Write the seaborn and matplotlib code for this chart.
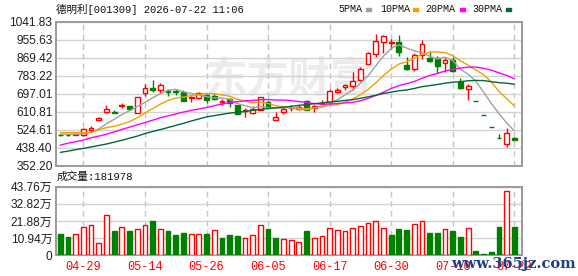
import numpy as np
import pandas as pd
import matplotlib
matplotlib.use("Agg")
import matplotlib.pyplot as plt
from matplotlib.patches import Rectangle
import seaborn as sns

TITLE = "德明利[001309] 2026-07-22 11:06"
VOLUME_TEXT = "成交量:181978"

# daily OHLC
open_ = [500, 500, 501, 500, 523, 573, 609, 607, 638, 637.5,
         606, 700, 725, 712.7, 711, 711, 706.4, 677, 676.6, 690.7,
         684, 658, 671, 641, 615, 604.4, 617, 655.5, 572.5, 611,
         627, 625, 663.5, 630, 650, 655.5, 705, 729, 735.3, 764,
         837.5, 887.6, 946.1, 940, 946.1, 832.2, 813.3, 882.9, 868.6, 867,
         843.3, 859.1, 753.1, 721.5, 662, 596, 536.4, 482.8, 457.3, 484.2]
high = [503, 502, 506, 534, 542, 585, 640.6, 617, 652, 640,
        683, 744, 762.8, 747, 720, 719, 712.7, 684, 703, 694,
        694, 671, 678, 641, 630, 636, 682.6, 665, 609, 639.5,
        641, 641, 668, 641, 665, 721, 724, 745, 800.8, 824.7,
        896.5, 982.5, 979.4, 958.8, 979.4, 871.8, 890.8, 954, 900.3, 879.7,
        867, 874.9, 773.7, 745.2, 662, 596, 536.4, 503, 531.6, 492]
low = [496, 496, 497, 496, 515, 570, 606, 606, 630, 619,
       606, 687.6, 703, 700, 684, 689, 661, 658, 673.5, 653,
       665.6, 641, 633, 598, 585, 598, 617, 630, 572.5, 601,
       614, 620, 617, 609, 646, 649, 701.8, 713, 713, 756,
       837.5, 874.9, 892.4, 911.3, 879.7, 808.5, 803.8, 863.9, 848, 795.9,
       800.6, 800.6, 721.5, 666.1, 662, 596, 536.4, 482.8, 441.5, 476]
close = [499, 498, 502, 527.8, 532, 583, 622, 606, 643, 622,
         683, 723.6, 716, 739, 707, 705, 661, 681, 700, 669,
         672, 660, 652, 598, 618, 623.6, 682.6, 630, 587, 625,
         630, 635, 620, 639.5, 654, 711.4, 714.5, 738.5, 756, 813.5,
         893.3, 950.9, 971.5, 943, 895.5, 816.4, 882.9, 935.1, 852.8, 829,
         859.1, 805.3, 724.6, 735.7, 662, 596, 536.4, 482.8, 508, 476.3]

# volume in 万 shares
volume = [13.6, 11.7, 13.6, 17.8, 19.3, 7.9, 25.7, 15.5, 17.8, 15.5,
          16.6, 19.3, 21.9, 16.6, 15.5, 13.0, 14.2, 13.6, 13.6, 13.6,
          15.9, 11.0, 13.0, 12.3, 11.0, 13.0, 19.3, 16.8, 11.0, 10.4,
          9.8, 8.5, 15.5, 11.0, 12.3, 17.4, 16.1, 15.5, 17.4, 18.7,
          20.4, 21.5, 17.4, 13.0, 16.8, 16.1, 20.0, 21.7, 14.4, 14.4,
          16.6, 15.5, 11.7, 17.4, 3.0, 1.1, 2.3, 18.1, 41.0, 18.2]

# moving averages as drawn on the chart
ma5 = [503, 503, 503, 505, 511.8, 528.6, 553.4, 574.2, 597.2, 615.2,
       635.2, 655.5, 677.5, 696.7, 713.7, 718.1, 705.6, 698.6, 690.8, 683.2,
       676.6, 676.4, 670.6, 650.2, 640.0, 630.3, 634.8, 630.4, 628.2, 629.6,
       630.9, 621.4, 619.4, 629.9, 635.7, 652.0, 667.9, 691.6, 714.9, 746.8,
       783.2, 830.4, 877.0, 914.4, 930.8, 915.5, 901.9, 894.6, 876.5, 863.2,
       871.8, 856.3, 814.2, 790.7, 757.3, 704.7, 651.0, 602.6, 557.0, 519.9]
ma10 = [511, 511, 511, 511, 512, 524, 535, 541, 551, 563.5,
        581.9, 604.4, 625.8, 647.0, 664.5, 676.7, 680.6, 688.1, 693.8, 698.5,
        697.4, 691.0, 684.6, 670.5, 661.6, 653.5, 655.6, 650.5, 639.2, 634.8,
        630.6, 628.1, 624.9, 629.1, 632.7, 641.5, 644.6, 655.5, 672.4, 691.2,
        717.6, 749.2, 784.3, 814.7, 838.8, 849.3, 866.2, 885.8, 895.5, 897.0,
        893.6, 879.1, 854.4, 833.6, 810.3, 788.3, 753.6, 708.4, 673.9, 638.6]
ma20 = [451, 460, 467, 475, 486, 494, 503, 514, 526, 537,
        548, 559, 570, 582, 591, 600, 609, 617, 624, 631.0,
        639.6, 647.7, 655.2, 658.7, 663.0, 665.1, 668.1, 669.3, 666.5, 666.6,
        664.0, 659.6, 654.8, 649.8, 647.1, 647.5, 650.1, 653.0, 655.8, 663.0,
        674.1, 688.6, 704.6, 721.9, 735.7, 745.4, 755.4, 770.7, 783.9, 794.1,
        805.6, 814.1, 819.3, 824.2, 824.6, 818.8, 809.9, 797.1, 784.7, 767.8]
ma30 = [416, 422, 429, 435, 442, 449, 456, 465, 474, 484,
        494, 506, 516, 525, 535, 545, 555, 566, 576, 586,
        592, 598, 604, 608, 612, 617, 622, 626, 629, 632.3,
        636.6, 641.2, 645.1, 648.8, 652.9, 657.2, 660.3, 664.7, 668.5, 674.8,
        681.9, 689.4, 697.9, 704.7, 711.0, 714.7, 722.1, 730.6, 735.7, 741.0,
        747.3, 752.1, 754.5, 759.1, 760.6, 759.7, 754.8, 749.9, 747.3, 742.3]

price_ticks = [352.20, 438.40, 524.61, 610.81, 697.01, 783.22, 869.42, 955.63, 1041.83]
vol_ticks = [0, 10.94, 21.88, 32.82, 43.76]
date_pos = [3, 11, 19, 27, 35, 43, 51, 59]
date_labels = ["04-29", "05-14", "05-26", "06-05", "06-17", "06-30", "07-10", "07-22"]

ma_names = ["5PMA", "10PMA", "20PMA", "30PMA"]
ma_colors = ["#a0a0a0", "#f0a000", "#ff00ff", "#006a32"]

RED = "#ff0000"
GREEN = "#008000"

sns.set_style("white")
plt.rcParams["font.family"] = ["Liberation Sans", "Noto Sans CJK SC", "DejaVu Sans"]

W, H = 578, 276


def fx(px):
    return px / W


def fy(py):
    return 1 - py / H


df = pd.DataFrame({"open": open_, "high": high, "low": low, "close": close,
                   "volume": volume})
df["idx"] = np.arange(len(df))

# candle colour: body direction; volume colour: change vs previous close
diff = df["close"] - df["open"]
prev = df["close"].shift(1).fillna(df["open"])
up_candle = np.where(diff != 0, diff > 0, df["close"] >= prev)
up_vol = (df["close"] >= prev).values
up_vol[0] = df["close"][0] >= df["open"][0]

fig = plt.figure(figsize=(W / 100, H / 100), dpi=100)
ax = fig.add_axes([fx(56), fy(165.7), (522.3 - 56) / W, (165.7 - 21.7) / H])
ax2 = fig.add_axes([fx(56), fy(255.3), (522.3 - 56) / W, (255.3 - 186.5) / H])

xlim = (-0.56, 60.04)
frame_c = "#9a9a9a"

# watermark
ax.text(0.5, 0.6, "东方财富", transform=ax.transAxes, fontsize=30,
        color="#ececec", ha="center", va="center", fontweight="bold",
        family=["Noto Sans CJK SC"], zorder=0)

# candles
ccol = [RED if u else GREEN for u in up_candle]
face = ["white" if u else GREEN for u in up_candle]
ax.vlines(df["idx"], df["low"], df["high"], colors=ccol, linewidth=1.0, zorder=2)
bottoms = np.minimum(df["open"], df["close"])
heights = np.abs(df["close"] - df["open"])
ax.bar(df["idx"], heights, bottom=bottoms, width=0.62, color=face,
       edgecolor=ccol, linewidth=1.0, zorder=3)

# moving averages
for vals, name, col in zip([ma5, ma10, ma20, ma30], ma_names, ma_colors):
    sns.lineplot(x=df["idx"], y=vals, ax=ax, color=col, linewidth=1.0,
                 zorder=4, legend=False)

ax.set_xlim(*xlim)
ax.set_ylim(price_ticks[0], price_ticks[-1])
ax.set_yticks(price_ticks)
ax.set_yticklabels([f"{v:.2f}" for v in price_ticks])
ax.set_xticks(date_pos)
ax.set_xticklabels([])
ax.set_xlabel("")
ax.set_ylabel("")

# volume
vcol = [RED if u else GREEN for u in up_vol]
vface = ["white" if u else GREEN for u in up_vol]
ax2.bar(df["idx"], df["volume"], width=0.62, color=vface, edgecolor=vcol,
        linewidth=1.0, zorder=3)
ax2.set_xlim(*xlim)
ax2.set_ylim(vol_ticks[0], vol_ticks[-1])
ax2.set_yticks(vol_ticks)
ax2.set_yticklabels(["0"] + [f"{v:.2f}万" for v in vol_ticks[1:]])
ax2.set_xticks(date_pos)
ax2.set_xticklabels(date_labels, color=RED, family=["Liberation Mono"], fontsize=7.2)

for a in (ax, ax2):
    a.grid(axis="y", color="#d2d2d2", linestyle="-", linewidth=1.0)
    a.grid(axis="x", color="#c4c4c4", linestyle=(0, (4, 3)), linewidth=1.0)
    a.set_axisbelow(True)
    a.tick_params(length=0, pad=2.5, labelsize=8.6, labelcolor="#202020")
    for s in a.spines.values():
        s.set_color(frame_c)
        s.set_linewidth(1.4)
ax2.tick_params(axis="x", pad=4, labelcolor=RED)

# header texts
fig.text(fx(56), fy(9.5), TITLE, fontsize=7.6, va="center", ha="left",
         family=["Liberation Mono", "Noto Sans CJK SC"], color="#111111")
fig.text(fx(57), fy(177), VOLUME_TEXT, fontsize=7.7, va="center", ha="left",
         family=["Liberation Mono", "Noto Sans CJK SC"], color="#111111")

# MA legend
leg_x = [338, 380, 425, 472]
dash_x = [366, 413, 460, 506]
for name, col, lx, dx in zip(ma_names, ma_colors, leg_x, dash_x):
    fig.text(fx(lx), fy(9.5), name, fontsize=7.2, va="center", ha="left",
             family=["Liberation Mono"], color="#111111")
    fig.add_artist(Rectangle((fx(dx), fy(11)), 5 / W, 3 / H,
                             transform=fig.transFigure, color=col))

fig.text(fx(576), fy(264), "www.365jz.com", fontsize=10.5, ha="right", va="center",
         family=["DejaVu Serif"], fontweight="bold", color="#1f3f80")

fig.savefig("out.png", dpi=100)
